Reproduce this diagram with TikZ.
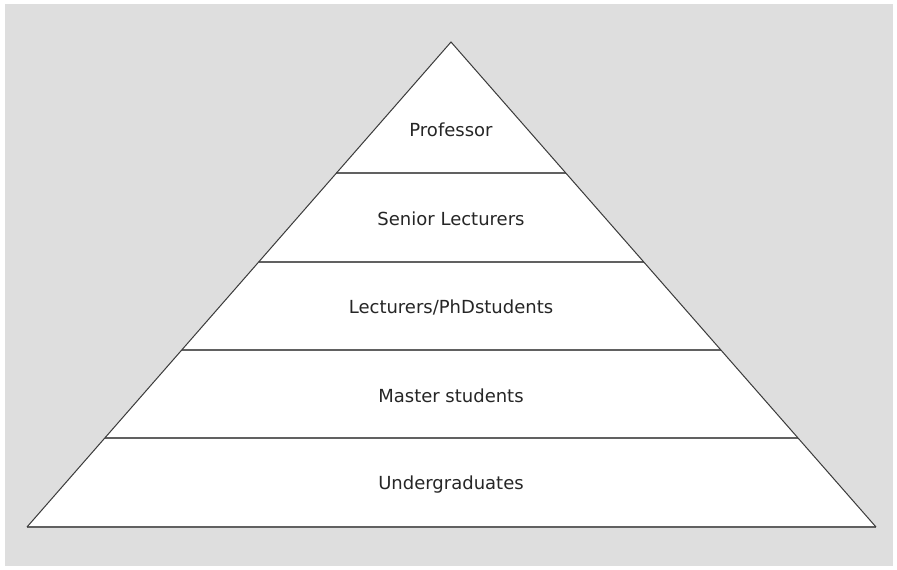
\documentclass[tikz,border=0pt]{standalone}
\usepackage{fontspec}
\setmainfont{DejaVu Sans}
\definecolor{bg}{HTML}{DEDEDE}
\definecolor{ln}{HTML}{3A3A3A}
\begin{document}
\begin{tikzpicture}[x=1pt,y=-1pt,
  lbl/.style={font=\fontsize{18}{20}\selectfont, text=black!85, inner sep=0pt},
  edge/.style={draw=ln, line width=1pt, line join=miter},
  tier/.style={draw=ln!80, line width=1.3pt}]
\useasboundingbox (0,0) rectangle (897,570);
\fill[bg] (5,4) rectangle (893,566);
\coordinate (apex) at (451,42);
\coordinate (bl) at (27,527);
\coordinate (br) at (876,527);
\fill[white] (apex) -- (bl) -- (br) -- cycle;
% tier lines
\foreach \y/\n in {173/a,262/b,350/c,438/d}{
  \path (apex) -- (bl) coordinate[pos={(\y-42)/485}] (l\n);
  \path (apex) -- (br) coordinate[pos={(\y-42)/485}] (r\n);
  \draw[tier] (l\n) -- (r\n);
}
\draw[tier] (bl) -- (br);
\draw[edge] (bl) -- (apex) -- (br);
\node[lbl] (prof) at (451,130) {Professor};
\node[lbl] (sen) at (451,219) {Senior Lecturers};
\node[lbl] (lec) at (451,307) {Lecturers/PhDstudents};
\node[lbl] (mas) at (451,396) {Master students};
\node[lbl] (und) at (451,485) {Undergraduates};
\end{tikzpicture}
\end{document}
